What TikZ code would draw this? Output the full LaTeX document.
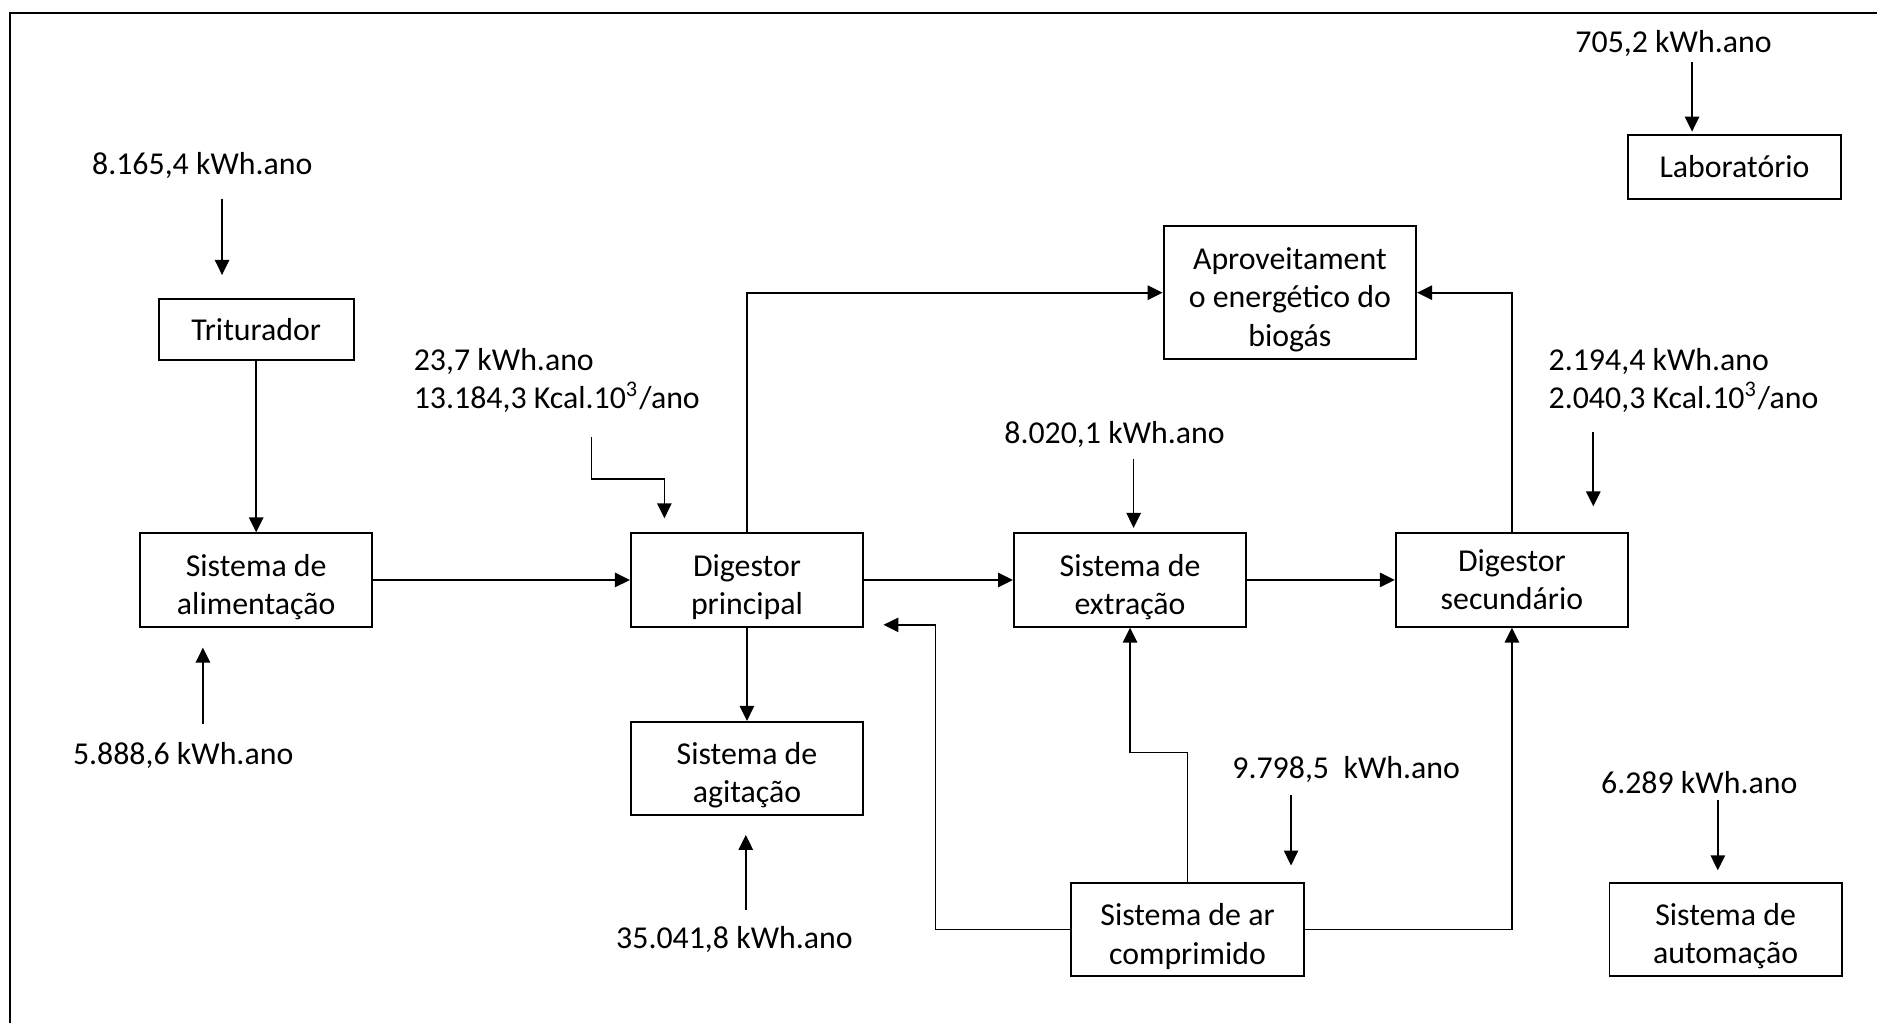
\documentclass[tikz,border=0pt]{standalone}
\usepackage{fontspec}
\setmainfont{Carlito}
\usetikzlibrary{arrows.meta}

% taller first line, so the text sits a little low in its box
\newcommand{\topo}{\rule{0pt}{3mm}}

\begin{document}
\begin{tikzpicture}[
    font=\fontsize{7.57}{9.1}\selectfont,
    >={Triangle[length=1.25mm,width=1.2mm]},
    bloco/.style={draw, line width=0.45pt, minimum width=1.94cm, minimum height=0.78cm, inner sep=0pt, align=center},
    valor/.style={inner sep=0pt, align=left},
    fluxo/.style={line width=0.4pt}
]
    \useasboundingbox (0,0) rectangle (15.68,8.55);

    % Frame
    \draw[line width=0.5pt] (15.68,8.44) -- (0.08,8.44) -- (0.08,0);

    % Blocks
    \node[bloco, minimum width=1.63cm, minimum height=0.51cm] (trit) at (2.14,5.795) {Triturador};
    \node[bloco] (alim) at (2.14,3.705) {\topo Sistema de\\alimentação};
    \node[bloco] (dprinc) at (6.24,3.705) {\topo Digestor\\principal};
    \node[bloco] (agit) at (6.24,2.13) {\topo Sistema de\\agitação};
    \node[bloco, minimum width=2.11cm, minimum height=1.11cm] (aprov) at (10.775,6.105) {\topo Aproveitament\\o energético do\\biogás};
    \node[bloco] (extr) at (9.44,3.705) {\topo Sistema de\\extração};
    \node[bloco] (dsec) at (12.63,3.705) {Digestor\\secundário};
    \node[bloco] (ar) at (9.92,0.785) {\topo Sistema de ar\\comprimido};
    \node[bloco] (autom) at (14.415,0.785) {\topo Sistema de\\automação};
    \node[bloco, minimum width=1.78cm, minimum height=0.53cm] (lab) at (14.49,7.155) {Laboratório};

    % Process flow
    \draw[fluxo,->] (trit) -- (alim);
    \draw[fluxo,->] (alim) -- (dprinc);
    \draw[fluxo,->] (dprinc) |- (aprov);
    \draw[fluxo,->] (dprinc) -- (agit);
    \draw[fluxo,->] (dprinc) -- (extr);
    \draw[fluxo,->] (extr) -- (dsec);
    \draw[fluxo,->] (dsec) |- (aprov);

    % Compressed air
    \coordinate (canto) at (7.815,3.33);
    \coordinate (retorno) at (7.38,3.33);
    \draw[fluxo,->] (ar.west) -| (canto) -- (retorno);
    \draw[fluxo,->] (ar.north) -- ++(0,1.08) -| (extr.south);
    \draw[fluxo,->] (ar) -| (dsec);

    % Energy inputs
    \node[valor] (e1) at (1.69,7.17) {8.165,4 kWh.ano};
    \coordinate (e1a) at (1.855,6.89);
    \coordinate (e1b) at (1.855,6.253);
    \draw[fluxo,->] (e1a) -- (e1b);

    \node[valor] (e2) at (1.53,2.24) {5.888,6 kWh.ano};
    \coordinate (e2a) at (1.695,2.50);
    \coordinate (e2b) at (1.695,3.14);
    \draw[fluxo,->] (e2a) -- (e2b);

    \node[valor, anchor=west] (e3) at (3.45,5.37) {23,7 kWh.ano\\13.184,3 Kcal.10\textsuperscript{3}/ano};
    \coordinate (e3a) at (4.94,4.90);
    \coordinate (e3b) at (5.55,4.22);
    \draw[fluxo,->] (e3a) -- ++(0,-0.35) -| (e3b);

    \node[valor] (e4) at (6.135,0.70) {35.041,8 kWh.ano};
    \coordinate (e4a) at (6.23,0.95);
    \coordinate (e4b) at (6.23,1.575);
    \draw[fluxo,->] (e4a) -- (e4b);

    \node[valor] (e5) at (9.31,4.92) {8.020,1 kWh.ano};
    \coordinate (e5a) at (9.47,4.715);
    \coordinate (e5b) at (9.47,4.14);
    \draw[fluxo,->] (e5a) -- (e5b);

    \node[valor, anchor=west] (e6) at (12.93,5.37) {2.194,4 kWh.ano\\2.040,3 Kcal.10\textsuperscript{3}/ano};
    \coordinate (e6a) at (13.31,4.94);
    \coordinate (e6b) at (13.31,4.32);
    \draw[fluxo,->] (e6a) -- (e6b);

    \node[valor] (e7) at (13.98,8.186) {705,2 kWh.ano};
    \coordinate (e7a) at (14.135,8.03);
    \coordinate (e7b) at (14.135,7.45);
    \draw[fluxo,->] (e7a) -- (e7b);

    \node[valor] (e8) at (11.245,2.12) {9.798,5\ \ kWh.ano};
    \coordinate (e8a) at (10.785,1.91);
    \coordinate (e8b) at (10.785,1.32);
    \draw[fluxo,->] (e8a) -- (e8b);

    \node[valor] (e9) at (14.195,2.01) {6.289 kWh.ano};
    \coordinate (e9a) at (14.35,1.87);
    \coordinate (e9b) at (14.35,1.28);
    \draw[fluxo,->] (e9a) -- (e9b);
\end{tikzpicture}
\end{document}
